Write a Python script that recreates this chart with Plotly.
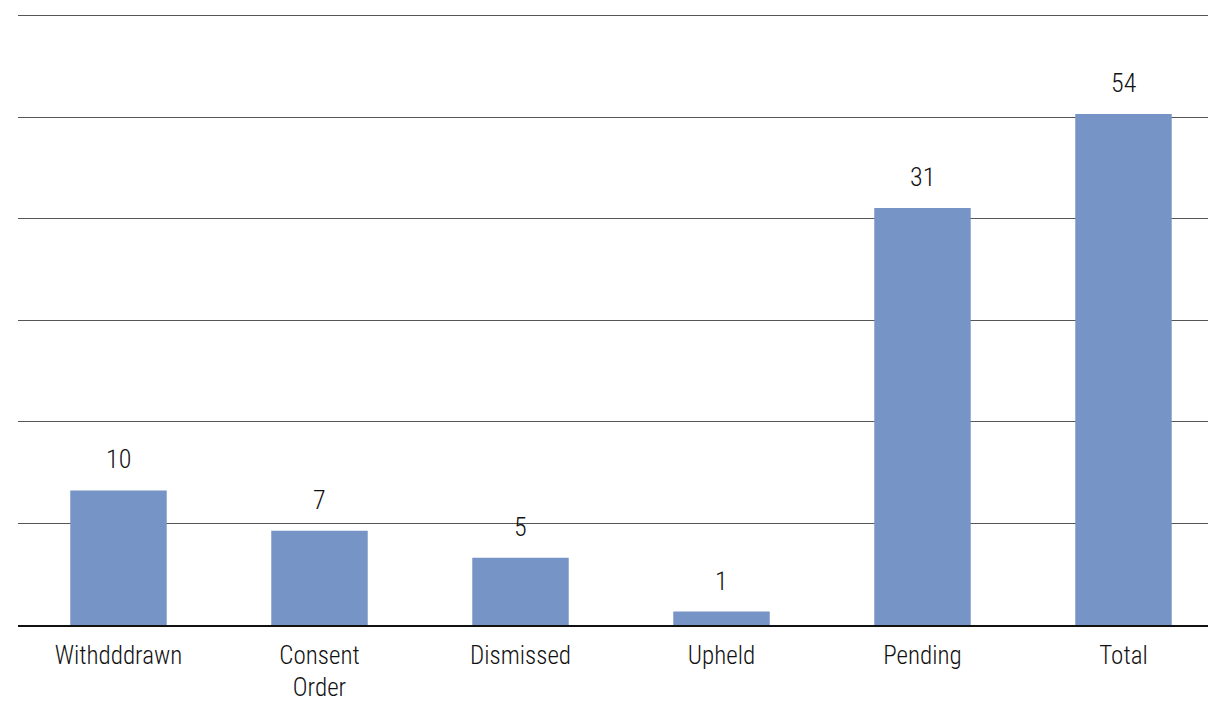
import plotly.graph_objects as go

categories = ["Withdddrawn", "Consent<br>Order", "Dismissed", "Upheld", "Pending", "Total"]
bar_heights = [10, 7, 5, 1, 31, 38]   # heights as drawn in the picture
value_labels = ["10", "7", "5", "1", "31", "54"]

FONT = "Liberation Sans Narrow, Roboto Condensed, Arial Narrow, Roboto, sans-serif"

fig = go.Figure(go.Bar(
    x=categories,
    y=bar_heights,
    marker=dict(color="#7794C6", line=dict(width=0)),
    hoverinfo="skip",
))

for cat, h, lab in zip(categories, bar_heights, value_labels):
    fig.add_annotation(
        x=cat, y=h, text=lab, showarrow=False,
        yanchor="bottom", yshift=14,
        font=dict(size=26, color="#111111", family=FONT, weight=300),
    )

fig.update_layout(
    width=1216, height=702,
    margin=dict(l=10, r=0, t=5, b=85, autoexpand=False),
    paper_bgcolor="white", plot_bgcolor="white",
    bargap=0.52,
    showlegend=False,
    font=dict(family=FONT, size=25, color="#111111", weight=300),
    xaxis=dict(
        showgrid=False, showline=True, linecolor="#111111", linewidth=1.5,
        ticks="", automargin=False, ticklabelstandoff=7,
        tickfont=dict(size=25, family=FONT, color="#111111", weight=300),
    ),
    yaxis=dict(
        range=[0, 45.5], tick0=0, dtick=7.55, automargin=False,
        showgrid=True, gridcolor="#555555", gridwidth=1.3,
        showticklabels=False, zeroline=False, showline=False, ticks="",
    ),
)

fig.write_html("out.html")
